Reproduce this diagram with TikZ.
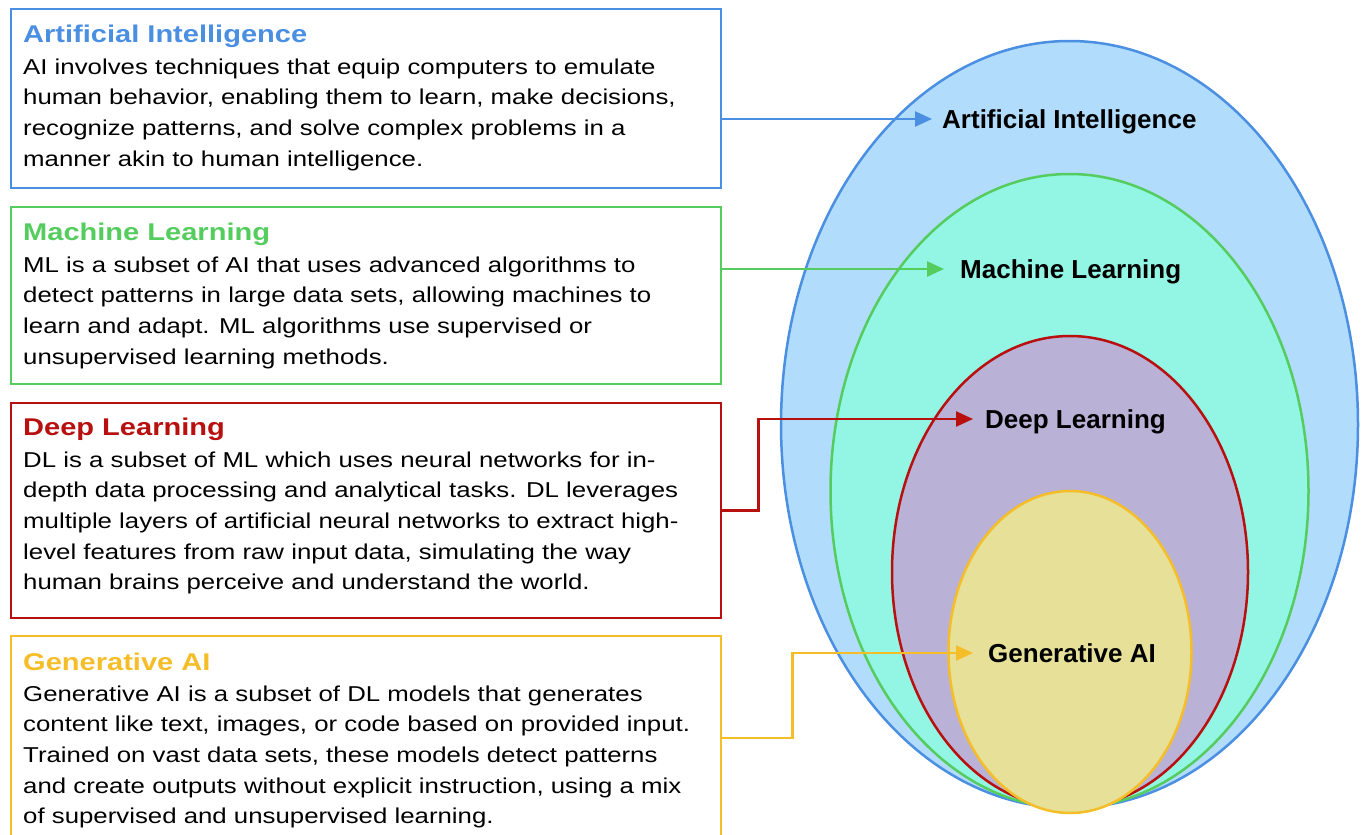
\documentclass[tikz,border=0pt]{standalone}
\usepackage{fontspec}
\setmainfont{Liberation Sans}
\newfontfamily\bodyfont[FakeStretch=1.2]{Liberation Sans}
\usetikzlibrary{shapes.geometric,arrows.meta}
\definecolor{ailine}{HTML}{4A8FE2}
\definecolor{aifill}{HTML}{B1DCFB}
\definecolor{mlline}{HTML}{55CC5E}
\definecolor{mlfill}{HTML}{93F5E3}
\definecolor{dlline}{HTML}{B80F0F}
\definecolor{dlfill}{HTML}{B9B2D6}
\definecolor{genline}{HTML}{F5BE29}
\definecolor{genfill}{HTML}{E6E098}
\begin{document}
\begin{tikzpicture}[x=1pt,y=-1pt,
  infobox/.style={draw=#1, line width=2.5pt, minimum width=710pt, inner sep=0pt},
  ttl/.style={font=\bodyfont\bfseries\fontsize{24.2}{30}\selectfont, text=#1, anchor=base west, inner sep=0pt},
  bodytext/.style={font=\bodyfont\fontsize{21.5}{30.7}\selectfont, align=left, anchor=base west, inner sep=0pt},
  setshape/.style 2 args={ellipse, draw=#1, fill=#2, line width=2.5pt, inner sep=0pt},
  setlab/.style={font=\fontsize{26}{28}\selectfont\bfseries, anchor=west, inner sep=0pt, text depth=0pt},
  conn/.style={draw=#1, line width=2.5pt, -{Triangle[length=17pt,width=15pt]}}]
\useasboundingbox (0,0) rectangle (1361,835);
% boxes
\node[infobox=ailine, minimum height=179pt] (aibox) at (366,98.5) {};
\node[infobox=mlline, minimum height=177pt] (mlbox) at (366,295.5) {};
\node[infobox=dlline, minimum height=215pt] (dlbox) at (366,510.5) {};
\node[infobox=genline, minimum height=204pt] (genbox) at (366,738) {};
% titles
\node[ttl=ailine] (aititle) at (23,42.5) {Artificial Intelligence};
\node[ttl=mlline] (mltitle) at (23,240.5) {Machine Learning};
\node[ttl=dlline] (dltitle) at (23,435.5) {Deep Learning};
\node[ttl=genline] (gentitle) at (23,670.5) {Generative AI};
% body (anchored at the baseline of the last line)
\node[bodytext] (aitext) at (23,166.1) {AI involves techniques that equip computers to emulate\\human behavior, enabling them to learn, make decisions,\\recognize patterns, and solve complex problems in a\\manner akin to human intelligence.};
\node[bodytext] (mltext) at (23,364.1) {ML is a subset of AI that uses advanced algorithms to\\detect patterns in large data sets, allowing machines to\\learn and adapt. ML algorithms use supervised or\\unsupervised learning methods.};
\node[bodytext] (dltext) at (23,589.8) {DL is a subset of ML which uses neural networks for in-\\depth data processing and analytical tasks. DL leverages\\multiple layers of artificial neural networks to extract high-\\level features from raw input data, simulating the way\\human brains perceive and understand the world.};
\node[bodytext] (gentext) at (23,823.8) {Generative AI is a subset of DL models that generates\\content like text, images, or code based on provided input.\\Trained on vast data sets, these models detect patterns\\and create outputs without explicit instruction, using a mix\\of supervised and unsupervised learning.};
% ellipses
\node[setshape={ailine}{aifill}, minimum width=577pt, minimum height=767pt] (aiset) at (1069.5,424.5) {};
\node[setshape={mlline}{mlfill}, minimum width=478pt, minimum height=634pt] (mlset) at (1069.5,491) {};
\node[setshape={dlline}{dlfill}, minimum width=356pt, minimum height=472pt] (dlset) at (1070,572) {};
\node[setshape={genline}{genfill}, minimum width=243pt, minimum height=322pt] (genset) at (1070,652) {};
% labels
\node[setlab] (ailab) at (942,119) {Artificial Intelligence};
\node[setlab] (mllab) at (960,269) {Machine Learning};
\node[setlab] (dllab) at (985,419) {Deep Learning};
\node[setlab] (genlab) at (988,653) {Generative AI};
% connectors
\draw[conn=ailine, shorten >=10pt] (aibox.east |- ailab.west) -- (ailab.west);
\draw[conn=mlline, shorten >=16pt] (mlbox.east |- mllab.west) -- (mllab.west);
\draw[conn=dlline, shorten >=12pt] (dlbox.east) -- ++(36,0) |- (dllab.west);
\draw[conn=genline, shorten >=15pt] (genbox.east) -- ++(70,0) |- (genlab.west);
\end{tikzpicture}
\end{document}
